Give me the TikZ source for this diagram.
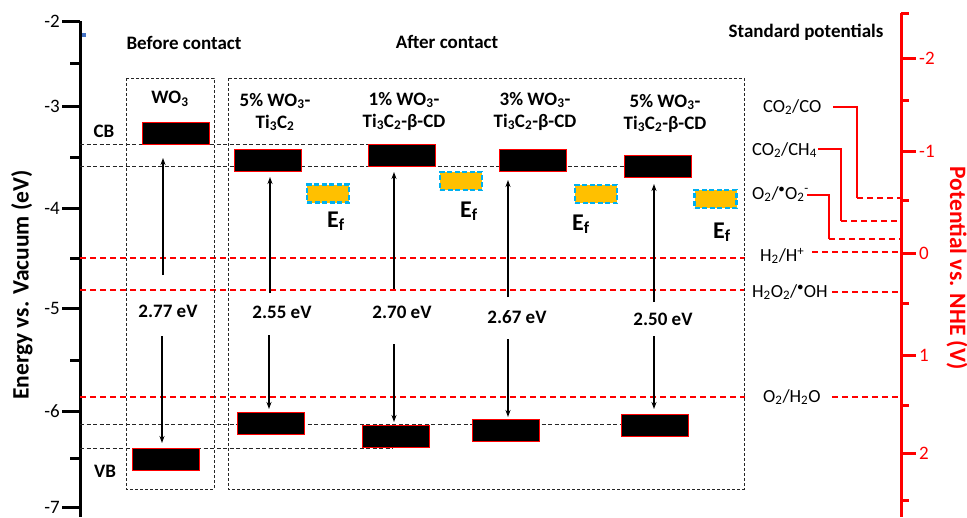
\documentclass[tikz,border=0pt]{standalone}
\usepackage{fontspec}
\setmainfont{Carlito}
\usetikzlibrary{arrows.meta}
\definecolor{efill}{RGB}{255,192,0}
\definecolor{eblue}{RGB}{0,176,240}
\definecolor{mkblue}{RGB}{68,114,196}
\begin{document}
\begin{tikzpicture}[x=1pt,y=-1pt,
  band/.style={draw=red, fill=black, line width=0.9pt, minimum width=67pt, minimum height=22pt, inner sep=0pt},
  efbox/.style={draw=eblue, fill=efill, line width=2.3pt, dash pattern=on 5pt off 2.5pt, minimum width=42pt, minimum height=18pt, inner sep=0pt},
  framebox/.style={draw=black!85, line width=0.9pt, dash pattern=on 3pt off 2pt},
  guide/.style={draw=black!85, line width=0.9pt, dash pattern=on 4pt off 2.5pt},
  potline/.style={draw=red, line width=1.2pt, dash pattern=on 6pt off 4pt},
  thinred/.style={draw=red, line width=1.3pt},
  gaparrow/.style={draw=black, line width=1.2pt, -{Stealth[length=7pt,width=5pt]}},
  hd/.style={font=\bfseries\fontsize{19}{22}\selectfont, align=center, inner sep=0pt},
  gaplbl/.style={font=\bfseries\fontsize{19}{22}\selectfont, inner sep=0pt},
  efl/.style={font=\bfseries\fontsize{24}{26}\selectfont, inner sep=0pt},
  std/.style={font=\fontsize{18.5}{21}\selectfont, inner sep=0pt},
  tickl/.style={font=\fontsize{19}{21}\selectfont, inner sep=0pt},
  axtitle/.style={font=\bfseries\fontsize{23.5}{25}\selectfont, inner sep=0pt},
]
\useasboundingbox (0,0) rectangle (967,517);

% ---------- left axis ----------
\draw[line width=3pt] (80,21) -- (80,517);
\foreach \y/\t [count=\i] in {21/-2,106/-3,208/-4,308/-5,411/-6,507/-7}{
  \draw[line width=3pt] (62,\y) -- (80,\y);
  \node[tickl, anchor=east] (lt\i) at (60,\y) {\t};
}
\foreach \y in {63,157,258,360,458}{
  \draw[line width=3pt] (70,\y) -- (80,\y);
}
\fill[mkblue] (82,33) rectangle (86,37);
\node[axtitle, rotate=90] (ltitle) at (22,285) {Energy vs. Vacuum (eV)};

% ---------- right axis ----------
\draw[red, line width=3pt] (901,13) -- (901,517);
\foreach \y/\t [count=\i] in {58/-2,151/-1,253/0,355/1,453/2}{
  \draw[red, line width=3pt] (901,\y) -- (916,\y);
  \node[tickl, text=red, anchor=west] (rt\i) at (919,\y) {\t};
}
\foreach \y in {13,100,200,303,405,500}{
  \draw[red, line width=3pt] (901,\y) -- (909,\y);
}
\node[axtitle, text=red, rotate=-90] (rtitle) at (957,268) {Potential vs. NHE (V)};

% ---------- headers ----------
\node[hd] (hbefore) at (184,43) {Before contact};
\node[hd] (hafter) at (447,42) {After contact};
\node[hd] (hstd) at (806,32) {Standard potentials};

% ---------- guide lines ----------
\draw[guide] (80,144) -- (368,144);
\draw[guide] (80,166) -- (625,166);
\draw[guide] (80,424) -- (621,424);
\draw[guide] (80,448) -- (393,448);

% ---------- potential lines (left part) ----------
\draw[potline] (80,258) -- (745,258);
\draw[potline] (80,290) -- (745,290);
\draw[potline] (80,397) -- (745,397);

% ---------- frames ----------
\draw[framebox] (126,78) rectangle (214,489);
\draw[framebox] (228,78) rectangle (744,489);

% ---------- material labels ----------
\node[hd] (nwo) at (170,99) {WO\textsubscript{3}};
\node[hd] (n5) at (275,112) {5\% WO\textsubscript{3}-\\Ti\textsubscript{3}C\textsubscript{2}};
\node[hd] (n1) at (404,111) {1\% WO\textsubscript{3}-\\Ti\textsubscript{3}C\textsubscript{2}-β-CD};
\node[hd] (n3) at (535,111) {3\% WO\textsubscript{3}-\\Ti\textsubscript{3}C\textsubscript{2}-β-CD};
\node[hd] (n5b) at (665,113) {5\% WO\textsubscript{3}-\\Ti\textsubscript{3}C\textsubscript{2}-β-CD};
\node[hd] (cb) at (104,131) {CB};
\node[hd] (vb) at (105,471) {VB};

% ---------- bands ----------
\node[band] (cbwo) at (176,133) {};
\node[band] (vbwo) at (166,459) {};
\node[band] (cb5) at (268,160) {};
\node[band] (cb1) at (401.5,155) {};
\node[band] (cb3) at (533,160) {};
\node[band] (cb5b) at (658,166) {};
\node[band] (vb5) at (270.5,423) {};
\node[band] (vb1) at (395.5,436) {};
\node[band] (vb3) at (505.5,430) {};
\node[band] (vb5b) at (654.5,425) {};

% ---------- Fermi levels ----------
\node[efbox] (ef5) at (328,193.5) {};
\node[efbox] (ef1) at (461,181) {};
\node[efbox] (ef3) at (596,194) {};
\node[efbox] (ef5b) at (715.5,199) {};
\node[efl, anchor=base west] (efl5) at (327,227) {E\textsubscript{f}};
\node[efl, anchor=base west] (efl1) at (460,217) {E\textsubscript{f}};
\node[efl, anchor=base west] (efl3) at (572,230) {E\textsubscript{f}};
\node[efl, anchor=base west] (efl5b) at (713,238) {E\textsubscript{f}};

% ---------- band gaps ----------
\node[gaplbl] (gwo) at (168,311) {2.77 eV};
\node[gaplbl] (g5) at (282,312) {2.55 eV};
\node[gaplbl] (g1) at (402,312) {2.70 eV};
\node[gaplbl] (g3) at (517,317) {2.67 eV};
\node[gaplbl] (g5b) at (663,319) {2.50 eV};

\coordinate (awo1) at (163,275); \coordinate (awo2) at (163,158);
\coordinate (awo3) at (162,336); \coordinate (awo4) at (162,443);
\coordinate (a51) at (270,293); \coordinate (a52) at (270,177);
\coordinate (a53) at (269,335); \coordinate (a54) at (269,409);
\coordinate (a11) at (394,289); \coordinate (a12) at (394,172);
\coordinate (a13) at (394,344); \coordinate (a14) at (394,422);
\coordinate (a31) at (508,297); \coordinate (a32) at (508,180);
\coordinate (a33) at (508,339); \coordinate (a34) at (508,417);
\coordinate (ab1) at (654,302); \coordinate (ab2) at (654,184);
\coordinate (ab3) at (654,336); \coordinate (ab4) at (654,409);
\foreach \p in {awo,a5,a1,a3,ab}{
  \draw[gaparrow] (\p1) -- (\p2);
  \draw[gaparrow] (\p3) -- (\p4);
}

% ---------- standard potentials ----------
\node[std, anchor=west] (pco) at (763,107) {CO\textsubscript{2}/CO};
\node[std, anchor=west] (pch) at (752,150) {CO\textsubscript{2}/CH\textsubscript{4}};
\node[std, anchor=west] (po2) at (752,194) {O\textsubscript{2}/$^{\bullet}$O\textsubscript{2}\textsuperscript{-}};
\node[std, anchor=west] (ph) at (760,256) {H\textsubscript{2}/H\textsuperscript{+}};
\node[std, anchor=west] (ph2o2) at (752,292) {H\textsubscript{2}O\textsubscript{2}/$^{\bullet}$OH};
\node[std, anchor=west] (ph2o) at (763,397) {O\textsubscript{2}/H\textsubscript{2}O};

\coordinate (s1a) at (833,107); \coordinate (s1b) at (857,198); \coordinate (s1c) at (901,198);
\coordinate (s2a) at (818,149); \coordinate (s2b) at (841,221); \coordinate (s2c) at (901,221);
\coordinate (s3a) at (807,195); \coordinate (s3b) at (829,239); \coordinate (s3c) at (901,239);
\draw[thinred] (s1a) -| (s1b); \draw[potline] (s1b) -- (s1c);
\draw[thinred] (s2a) -| (s2b); \draw[potline] (s2b) -- (s2c);
\draw[thinred] (s3a) -| (s3b); \draw[potline] (s3b) -- (s3c);

\coordinate (r1a) at (812,252); \coordinate (r1b) at (901,252);
\coordinate (r2a) at (832,292); \coordinate (r2b) at (901,292);
\coordinate (r3a) at (832,397); \coordinate (r3b) at (901,397);
\draw[potline] (r1a) -- (r1b);
\draw[potline] (r2a) -- (r2b);
\draw[potline] (r3a) -- (r3b);
\end{tikzpicture}
\end{document}
